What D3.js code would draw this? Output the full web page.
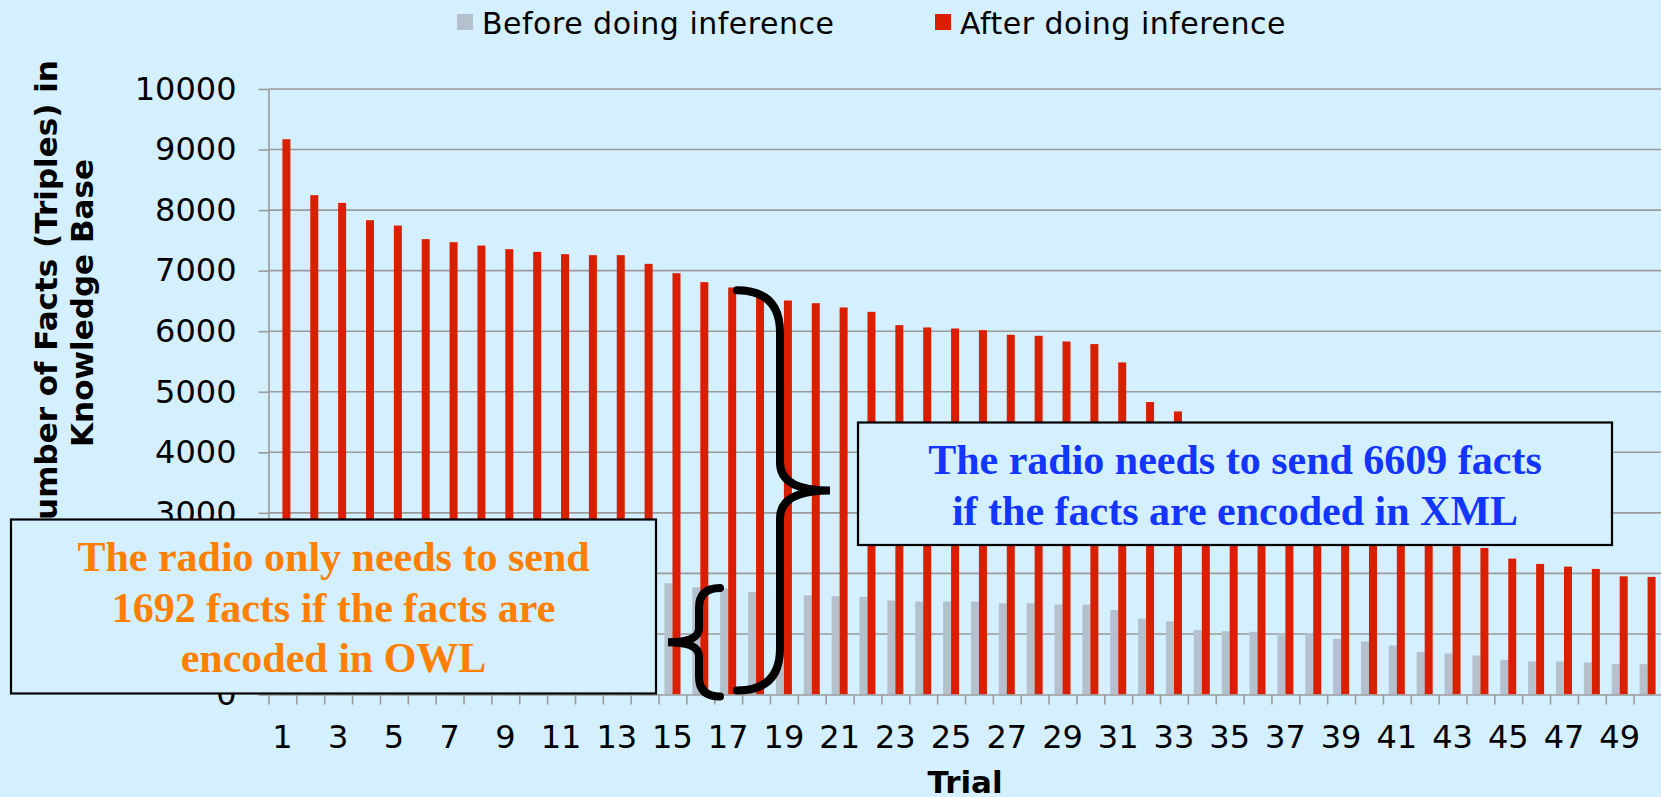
<!DOCTYPE html>
<html>
<head>
<meta charset="utf-8">
<script src="https://cdn.jsdelivr.net/npm/d3@7"></script>
<style>
  html, body { margin: 0; padding: 0; background: #d4effe; overflow: hidden; }
  svg { display: block; }
</style>
</head>
<body>
<svg id="chart"></svg>
<script>
//trials on the x axis
var trials = [1, 2, 3, 4, 5, 6, 7, 8, 9, 10, 11, 12, 13, 14, 15, 16, 17, 18, 19, 20,
              21, 22, 23, 24, 25, 26, 27, 28, 29, 30, 31, 32, 33, 34, 35, 36, 37, 38, 39, 40,
              41, 42, 43, 44, 45, 46, 47, 48, 49, 50];

//facts before inference (grey)
var beforeValues = [2650, 2300, 2250, 2150, 2100, 2050, 2020, 2000, 1980, 1960,
                    1940, 1920, 1900, 1870, 1837, 1771, 1755, 1692, 1680, 1639,
                    1623, 1612, 1551, 1535, 1535, 1535, 1507, 1507, 1485, 1485,
                    1397, 1254, 1205, 1062, 1045, 1034, 1012, 1012, 919, 875,
                    809, 704, 677, 644, 572, 545, 545, 528, 501, 501];

//facts after inference (red)
var afterValues = [9170, 8246, 8119, 7833, 7745, 7520, 7470, 7415, 7355, 7310,
                   7272, 7256, 7256, 7112, 6958, 6810, 6722, 6609, 6507, 6463,
                   6392, 6320, 6100, 6062, 6045, 6018, 5941, 5924, 5830, 5787,
                   5484, 4830, 4675, 4450, 4200, 3950, 3700, 3450, 3250, 3050,
                   2850, 2650, 2450, 2420, 2244, 2156, 2112, 2074, 1952, 1942];

var seriesNames = ['Before doing inference', 'After doing inference'];
var seriesColors = ['#b4c0cc', '#da1f00'];
var yTicks = [0, 1000, 2000, 3000, 4000, 5000, 6000, 7000, 8000, 9000, 10000];
var xTickLabels = [1, 3, 5, 7, 9, 11, 13, 15, 17, 19, 21, 23, 25, 27, 29, 31, 33, 35, 37, 39,
                   41, 43, 45, 47, 49];

//annotation texts and the trial they point at
var owlFacts = 1692, xmlFacts = 6609;
var owlNote = ['The radio only needs to send', '1692 facts if the facts are', 'encoded in OWL'];
var xmlNote = ['The radio needs to send 6609 facts', 'if the facts are encoded in XML'];

function factsChart() {
    var bg = '#d4effe';
    var svg = d3.select('#chart')
        .attr('width', 1661)
        .attr('height', 797)
        .style('background-color', bg);

    var margin = {top: 89, right: -0.5, bottom: 102.5, left: 268.5},
        width = 1661 - margin.left - margin.right,
        height = 797 - margin.top - margin.bottom;

    var canvas = svg.append('g')
        .attr('transform', 'translate(' + margin.left + ',' + margin.top + ')');

    //scales
    var x = d3.scaleBand().domain(trials).range([0, width])
        .paddingInner(0.426).paddingOuter(0.213);
    var xSeries = d3.scaleBand().domain([0, 1]).range([0, x.bandwidth()]);
    var xEdge = d3.scaleLinear().domain([0, trials.length]).range([0, width]);
    var y = d3.scaleLinear().domain([0, 10000]).range([height, 0]);

    //gridlines
    canvas.append('g')
        .selectAll('line').data(yTicks.filter(d => d > 0))
        .enter().append('line')
            .attr('x1', 0).attr('x2', width)
            .attr('y1', d => y(d)).attr('y2', d => y(d))
            .attr('stroke', '#9b9b9b')
            .attr('stroke-width', 1.6);

    //bars
    var groups = canvas.append('g')
        .selectAll('g').data(trials)
        .enter().append('g')
            .attr('transform', d => 'translate(' + x(d) + ',0)');

    groups.selectAll('rect')
        .data((d, i) => [beforeValues[i], afterValues[i]])
        .enter().append('rect')
            .attr('x', (d, j) => xSeries(j))
            .attr('width', xSeries.bandwidth())
            .attr('y', d => y(d))
            .attr('height', d => y(0) - y(d))
            .attr('fill', (d, j) => seriesColors[j]);

    //y axis
    var yAxis = canvas.append('g')
        .call(d3.axisLeft(y).tickValues(yTicks).tickFormat(d3.format('d'))
            .tickSize(10).tickSizeOuter(0).tickPadding(22));
    yAxis.select('.domain').attr('stroke', '#9b9b9b').attr('stroke-width', 1.6);
    yAxis.selectAll('.tick line').attr('stroke', '#9b9b9b').attr('stroke-width', 1.6);
    yAxis.selectAll('.tick text')
        .style('font-family', '"DejaVu Sans", sans-serif')
        .style('font-size', '32px')
        .attr('fill', '#000');

    //x axis: ticks on category edges, labels on odd trials
    var xAxis = canvas.append('g')
        .attr('transform', 'translate(0,' + height + ')')
        .call(d3.axisBottom(xEdge).tickValues(d3.range(trials.length + 1))
            .tickSize(10).tickSizeOuter(0).tickFormat(''));
    xAxis.select('.domain').attr('stroke', '#9b9b9b').attr('stroke-width', 1.6);
    xAxis.selectAll('.tick line').attr('stroke', '#9b9b9b').attr('stroke-width', 1.6);

    var xLabels = canvas.append('g')
        .attr('transform', 'translate(0,' + height + ')')
        .call(d3.axisBottom(x).tickValues(xTickLabels).tickSize(0).tickPadding(31));
    xLabels.select('.domain').remove();
    xLabels.selectAll('.tick text')
        .style('font-family', '"DejaVu Sans", sans-serif')
        .style('font-size', '32px')
        .attr('fill', '#000');

    //axis titles
    var yTitle = ['Number of Facts (Triples) in', 'Knowledge Base'];
    svg.selectAll('.ytitle').data(yTitle)
        .enter().append('text')
            .attr('class', 'ytitle')
            .attr('transform', (d, i) => 'translate(' + (57 + i * 36) + ',303) rotate(-90)')
            .attr('text-anchor', 'middle')
            .style('font-family', '"DejaVu Sans", sans-serif')
            .style('font-size', '31px')
            .style('font-weight', 'bold')
            .text(d => d);

    svg.append('text')
        .attr('x', margin.left + width / 2)
        .attr('y', 793)
        .attr('text-anchor', 'middle')
        .style('font-family', '"DejaVu Sans", sans-serif')
        .style('font-size', '31px')
        .style('font-weight', 'bold')
        .text('Trial');

    //legend
    var legendX = [457, 935];
    var legend = svg.append('g').selectAll('g').data(seriesNames)
        .enter().append('g')
            .attr('transform', (d, i) => 'translate(' + legendX[i] + ',0)');
    legend.append('rect')
        .attr('x', 0).attr('y', 14)
        .attr('width', 16).attr('height', 16)
        .attr('fill', (d, i) => seriesColors[i]);
    legend.append('text')
        .attr('x', 25).attr('y', 34)
        .style('font-family', '"DejaVu Sans", sans-serif')
        .style('font-size', '30px')
        .style('letter-spacing', '0.5px')
        .text(d => d);

    //curly braces
    function brace(xEnd, xSpine, xTip, yTop, yBot, r, rTip) {
        var yMid = (yTop + yBot) / 2;
        return 'M' + xEnd + ',' + yTop +
            'Q' + xSpine + ',' + yTop + ' ' + xSpine + ',' + (yTop + r) +
            'L' + xSpine + ',' + (yMid - rTip) +
            'Q' + xSpine + ',' + yMid + ' ' + xTip + ',' + yMid +
            'Q' + xSpine + ',' + yMid + ' ' + xSpine + ',' + (yMid + rTip) +
            'L' + xSpine + ',' + (yBot - r) +
            'Q' + xSpine + ',' + yBot + ' ' + xEnd + ',' + yBot;
    }
    var top = margin.top - 4;
    svg.append('path')
        .attr('d', brace(720, 699, 668, top + y(owlFacts), top + y(0) + 6, 20, 14))
        .attr('fill', 'none').attr('stroke', '#000')
        .attr('stroke-width', 8).attr('stroke-linecap', 'round');
    svg.append('path')
        .attr('d', brace(737, 780, 830, top + y(xmlFacts), top + y(0), 42, 28))
        .attr('fill', 'none').attr('stroke', '#000')
        .attr('stroke-width', 8).attr('stroke-linecap', 'round');

    //note boxes
    function note(box, lines, color, baselines) {
        var g = svg.append('g');
        g.append('rect')
            .attr('x', box[0]).attr('y', box[1])
            .attr('width', box[2]).attr('height', box[3])
            .attr('fill', bg).attr('stroke', '#000').attr('stroke-width', 2.2);
        g.selectAll('text').data(lines)
            .enter().append('text')
                .attr('x', box[0] + box[2] / 2)
                .attr('y', (d, i) => baselines[i])
                .attr('text-anchor', 'middle')
                .attr('fill', color)
                .style('font-family', '"Liberation Serif", "Times New Roman", serif')
                .style('font-size', '42px')
                .style('font-weight', 'bold')
                .text(d => d);
    }
    note([11, 519.5, 645, 174], owlNote, '#ff7f00', [571, 622, 672]);
    note([858, 422.5, 754, 122.5], xmlNote, '#1236ff', [474, 525]);
}

factsChart();
</script>
</body>
</html>
